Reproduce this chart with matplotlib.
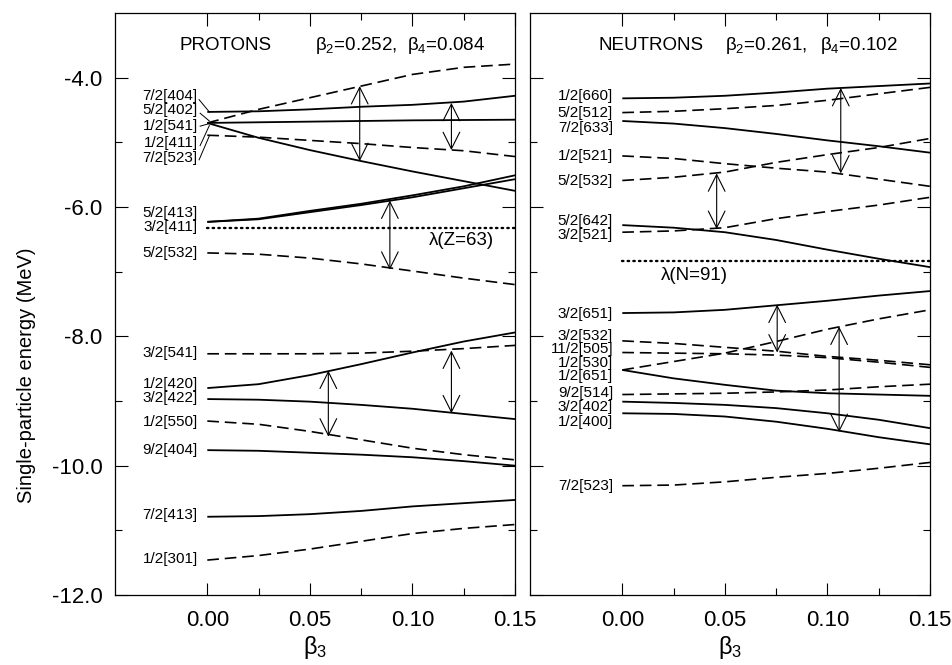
import matplotlib
matplotlib.use('Agg')
import matplotlib.pyplot as plt
import numpy as np

plt.rcParams['font.family'] = ['Liberation Sans', 'DejaVu Sans']
plt.rcParams['mathtext.fontset'] = 'custom'
plt.rcParams['mathtext.rm'] = 'Liberation Sans'
plt.rcParams['mathtext.it'] = 'Liberation Sans:italic'
plt.rcParams['axes.unicode_minus'] = False

# ---------------- data ----------------
beta = [0.0, 0.025, 0.05, 0.075, 0.10, 0.125, 0.15]

# protons (MeV)
prot_top_solid  = [-4.53, -4.52, -4.49, -4.45, -4.42, -4.37, -4.28]
prot_flat_solid = [-4.70, -4.69, -4.68, -4.67, -4.66, -4.655, -4.65]
prot_down_solid = [-4.70, -4.93, -5.12, -5.29, -5.45, -5.60, -5.75]
prot_up_dashed  = [-4.70, -4.49, -4.31, -4.13, -3.95, -3.84, -3.79]
prot_low_dashed = [-4.89, -4.92, -4.97, -5.02, -5.08, -5.13, -5.22]
prot_413 = [-6.23, -6.18, -6.06, -5.95, -5.82, -5.68, -5.51]
prot_411 = [-6.23, -6.19, -6.08, -5.97, -5.85, -5.71, -5.57]
prot_532 = [-6.71, -6.73, -6.79, -6.88, -6.99, -7.10, -7.20]
prot_541 = [-8.27, -8.27, -8.27, -8.26, -8.23, -8.19, -8.14]
prot_420 = [-8.80, -8.74, -8.60, -8.43, -8.25, -8.08, -7.94]
prot_422 = [-8.97, -8.98, -9.01, -9.06, -9.12, -9.20, -9.28]
prot_550 = [-9.31, -9.36, -9.47, -9.60, -9.73, -9.83, -9.91]
prot_404 = [-9.76, -9.77, -9.80, -9.83, -9.87, -9.93, -10.00]
prot_7413 = [-10.79, -10.78, -10.75, -10.70, -10.63, -10.58, -10.53]
prot_301 = [-11.46, -11.39, -11.29, -11.17, -11.05, -10.97, -10.91]
prot_lambda = -6.32

prot_labels = ['7/2[404]', '5/2[402]', '1/2[541]', '1/2[411]', '7/2[523]',
               '5/2[413]', '3/2[411]', '5/2[532]', '3/2[541]', '1/2[420]',
               '3/2[422]', '1/2[550]', '9/2[404]', '7/2[413]', '1/2[301]']
prot_label_E = [-4.29, -4.50, -4.75, -5.01, -5.24, -6.09, -6.31, -6.71,
                -8.26, -8.74, -8.96, -9.32, -9.76, -10.76, -11.45]

# leader lines for the crowded upper proton labels
lead_b0 = [-0.0040, -0.0035, -0.0035, -0.0035, -0.0040]
lead_E0 = [-4.34, -4.55, -4.75, -5.05, -5.27]
lead_b1 = [0.001, 0.001, 0.001, 0.001, 0.001]
lead_E1 = [-4.53, -4.67, -4.71, -4.74, -4.90]

prot_arrow_beta = [0.0743, 0.119, 0.089, 0.059, 0.119]
prot_arrow_top  = [-4.13, -4.39, -5.90, -8.53, -8.22]
prot_arrow_bot  = [-5.29, -5.12, -6.97, -9.55, -9.19]

# neutrons (MeV)
neut_660 = [-4.32, -4.31, -4.28, -4.23, -4.17, -4.13, -4.09]
neut_512 = [-4.54, -4.52, -4.48, -4.43, -4.35, -4.25, -4.15]
neut_633 = [-4.67, -4.71, -4.78, -4.87, -4.97, -5.06, -5.16]
neut_1521 = [-5.21, -5.25, -5.33, -5.40, -5.46, -5.57, -5.68]
neut_5532 = [-5.59, -5.54, -5.46, -5.31, -5.19, -5.08, -4.94]
neut_642 = [-6.28, -6.32, -6.39, -6.51, -6.66, -6.80, -6.93]
neut_3521 = [-6.39, -6.37, -6.32, -6.18, -6.07, -5.97, -5.85]
neut_3651 = [-7.64, -7.63, -7.59, -7.52, -7.45, -7.37, -7.30]
neut_3532 = [-8.07, -8.11, -8.17, -8.23, -8.31, -8.37, -8.44]
neut_505 = [-8.25, -8.26, -8.27, -8.29, -8.33, -8.40, -8.48]
neut_530 = [-8.52, -8.39, -8.26, -8.08, -7.89, -7.73, -7.59]
neut_1651 = [-8.52, -8.65, -8.75, -8.84, -8.88, -8.90, -8.92]
neut_514 = [-8.90, -8.89, -8.88, -8.86, -8.83, -8.78, -8.74]
neut_402 = [-9.01, -9.03, -9.06, -9.11, -9.19, -9.29, -9.42]
neut_400 = [-9.19, -9.20, -9.24, -9.32, -9.43, -9.56, -9.67]
neut_523 = [-10.31, -10.30, -10.25, -10.18, -10.12, -10.04, -9.95]
neut_lambda = -6.83

neut_labels = ['1/2[660]', '5/2[512]', '7/2[633]', '1/2[521]', '5/2[532]',
               '5/2[642]', '3/2[521]', '3/2[651]', '3/2[532]', '11/2[505]',
               '1/2[530]', '1/2[651]', '9/2[514]', '3/2[402]', '1/2[400]',
               '7/2[523]']
neut_label_E = [-4.28, -4.55, -4.78, -5.21, -5.60, -6.22, -6.43, -7.65,
                -7.99, -8.20, -8.41, -8.62, -8.88, -9.09, -9.32, -10.31]

neut_arrow_beta = [0.1065, 0.046, 0.0755, 0.1057]
neut_arrow_top  = [-4.16, -5.48, -7.51, -7.85]
neut_arrow_bot  = [-5.48, -6.34, -8.25, -9.48]

prot_title = ['PROTONS', r'$\mathrm{\beta}_2$=0.252,', r'$\mathrm{\beta}_4$=0.084']
prot_title_b = [-0.0137, 0.0523, 0.0972]
neut_title = ['NEUTRONS', r'$\mathrm{\beta}_2$=0.261,', r'$\mathrm{\beta}_4$=0.102']
neut_title_b = [-0.0118, 0.0500, 0.0966]

xticks = [0.0, 0.05, 0.10, 0.15]
xtick_labels = ['0.00', '0.05', '0.10', '0.15']
xminor = [0.025, 0.075, 0.125]
yticks = [-12, -10, -8, -6, -4]
ytick_labels = ['-12.0', '-10.0', '-8.0', '-6.0', '-4.0']
yminor = [-11, -9, -7, -5]

# ---------------- styling ----------------
SOLID = dict(color='black', lw=1.3, solid_capstyle='butt', solid_joinstyle='round')
DASH = dict(color='black', lw=1.2, dashes=(7, 3.5))
DOT = dict(color='black', lw=1.7, linestyle=(0, (0.6, 1.8)), dash_capstyle='round')

fig = plt.figure(figsize=(9.53, 6.65), dpi=100)
axL = fig.add_axes([115/953, 70/665, 400/953, 582/665])
axR = fig.add_axes([530/953, 70/665, 400/953, 582/665])

prot_curves = [(prot_top_solid, SOLID), (prot_flat_solid, SOLID),
               (prot_down_solid, SOLID), (prot_up_dashed, DASH),
               (prot_low_dashed, DASH), (prot_413, SOLID), (prot_411, SOLID),
               (prot_532, DASH), (prot_541, DASH), (prot_420, SOLID),
               (prot_422, SOLID), (prot_550, DASH), (prot_404, SOLID),
               (prot_7413, SOLID), (prot_301, DASH)]
neut_curves = [(neut_660, SOLID), (neut_512, DASH), (neut_633, SOLID),
               (neut_1521, DASH), (neut_5532, DASH), (neut_642, SOLID),
               (neut_3521, DASH), (neut_3651, SOLID), (neut_3532, DASH),
               (neut_505, DASH), (neut_530, DASH), (neut_1651, SOLID),
               (neut_514, DASH), (neut_402, SOLID), (neut_400, SOLID),
               (neut_523, DASH)]


def setup(ax, show_ylabels):
    ax.set_xlim(-0.045, 0.15)
    ax.set_ylim(-12.0, -3.0)
    ax.set_xticks(xticks)
    ax.set_xticklabels(xtick_labels)
    ax.set_xticks(xminor, minor=True)
    ax.set_yticks(yticks)
    ax.set_yticks(yminor, minor=True)
    if show_ylabels:
        ax.set_yticklabels(ytick_labels)
    else:
        ax.set_yticklabels([])
    ax.tick_params(axis='both', which='both', direction='in', top=True,
                   right=True, width=0.8, color='black')
    ax.tick_params(axis='x', which='major', length=9, pad=11, labelsize=16)
    ax.tick_params(axis='x', which='minor', length=5)
    ax.tick_params(axis='y', which='major', length=9.5, pad=9, labelsize=16)
    ax.tick_params(axis='y', which='minor', length=5)
    for sp in ax.spines.values():
        sp.set_linewidth(0.9)
    ax.set_xlabel(r'$\mathrm{\beta}_3$', fontsize=17, labelpad=2)


def draw_arrows(ax, bs, tops, bots):
    for b, t, bt in zip(bs, tops, bots):
        ax.annotate('', xy=(b, t), xytext=(b, bt),
                    arrowprops=dict(arrowstyle='<->,head_length=0.6,head_width=0.3',
                                    lw=0.8, color='black', shrinkA=0, shrinkB=0,
                                    mutation_scale=20))


setup(axL, True)
setup(axR, False)

LABEL_FS = 11

for vals, st in prot_curves:
    axL.plot(beta, vals, **st)
axL.plot([beta[0], beta[-1]], [prot_lambda, prot_lambda], **DOT)
for b0, e0, b1, e1 in zip(lead_b0, lead_E0, lead_b1, lead_E1):
    axL.plot([b0, b1], [e0, e1], color='black', lw=0.7)
for lab, e in zip(prot_labels, prot_label_E):
    axL.text(-0.0047, e, lab, ha='right', va='center', fontsize=LABEL_FS)
draw_arrows(axL, prot_arrow_beta, prot_arrow_top, prot_arrow_bot)
axL.text(0.124, -6.52, 'λ(Z=63)', ha='center', va='center', fontsize=13.5)
for t, b in zip(prot_title, prot_title_b):
    axL.text(b, -3.50, t, ha='left', va='center', fontsize=13.5)

for vals, st in neut_curves:
    axR.plot(beta, vals, **st)
axR.plot([beta[0], beta[-1]], [neut_lambda, neut_lambda], **DOT)
for lab, e in zip(neut_labels, neut_label_E):
    axR.text(-0.0045, e, lab, ha='right', va='center', fontsize=LABEL_FS)
draw_arrows(axR, neut_arrow_beta, neut_arrow_top, neut_arrow_bot)
axR.text(0.035, -7.06, 'λ(N=91)', ha='center', va='center', fontsize=13.5)
for t, b in zip(neut_title, neut_title_b):
    axR.text(b, -3.50, t, ha='left', va='center', fontsize=13.5)

fig.text(27/953, 1 - 375/665, 'Single-particle energy (MeV)', rotation=90,
         ha='center', va='center', fontsize=14.5)

fig.savefig('out.png', dpi=100)
